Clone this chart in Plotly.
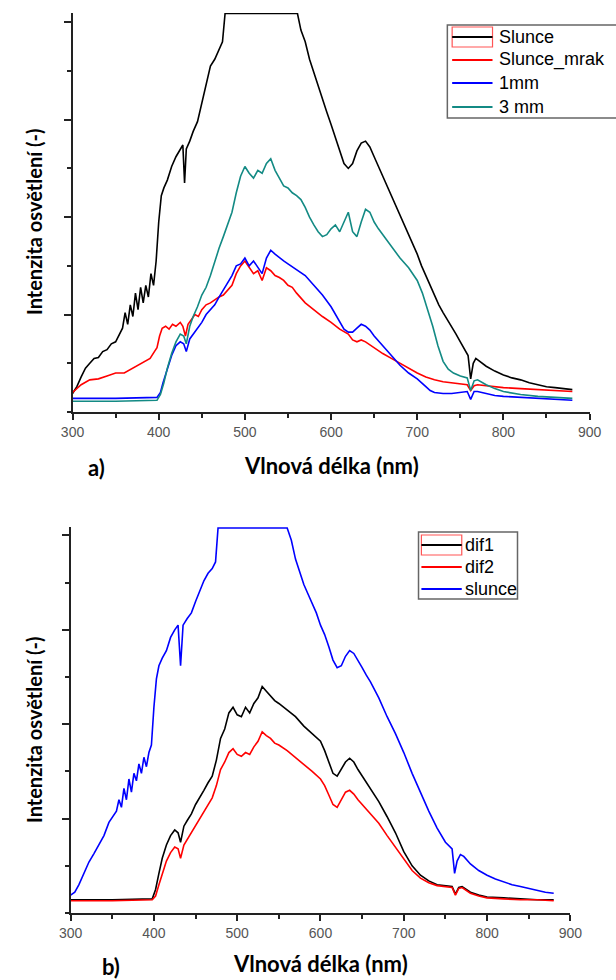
import plotly.graph_objects as go

W, H = 616, 980

# ---------- panel a) : irradiance spectra ----------
wl_slunce = [300, 305, 310, 315, 320, 325, 330, 335, 340, 345, 350, 355, 358, 361, 364, 367, 370, 373, 376, 379,
             382, 385, 388, 391, 394, 397, 400, 403, 406, 410, 415, 420, 425, 428, 430, 432, 436, 440, 445, 450,
             455, 460, 465, 470, 474, 477, 561, 565, 570, 575, 580, 585, 590, 595, 600, 605, 610, 615, 620, 625,
             630, 635, 640, 645, 650, 655, 660, 665, 670, 675, 680, 685, 690, 695, 700, 705, 710, 715, 720, 725,
             730, 735, 740, 745, 750, 755, 759, 762, 765, 768, 772, 780, 790, 800, 810, 820, 830, 840, 850, 860,
             870, 880]
slunce = [0.19, 0.26, 0.36, 0.45, 0.50, 0.55, 0.56, 0.62, 0.64, 0.70, 0.72, 0.80, 0.86, 1.02, 0.90, 1.10, 0.98, 1.22,
          1.05, 1.28, 1.12, 1.30, 1.18, 1.42, 1.30, 1.55, 1.95, 2.22, 2.30, 2.38, 2.52, 2.62, 2.70, 2.74, 2.35, 2.70,
          2.78, 2.88, 2.98, 3.18, 3.35, 3.55, 3.62, 3.72, 3.80, 4.09, 4.09, 3.92, 3.80, 3.62, 3.48, 3.35, 3.22, 3.08,
          2.95, 2.82, 2.68, 2.55, 2.50, 2.55, 2.68, 2.76, 2.78, 2.72, 2.62, 2.52, 2.42, 2.32, 2.22, 2.12, 2.02, 1.92,
          1.82, 1.72, 1.62, 1.50, 1.40, 1.30, 1.20, 1.10, 1.02, 0.95, 0.88, 0.80, 0.72, 0.64, 0.58, 0.34, 0.50, 0.55,
          0.52, 0.47, 0.42, 0.38, 0.35, 0.33, 0.30, 0.28, 0.26, 0.25, 0.24, 0.23]

wl_mrak = [300, 310, 320, 330, 340, 350, 360, 370, 380, 390, 395, 398, 401, 404, 408, 412, 416, 420, 425, 428,
           431, 434, 438, 442, 446, 450, 455, 460, 465, 470, 475, 480, 485, 490, 495, 500, 505, 510, 515, 520,
           525, 530, 535, 540, 545, 550, 555, 560, 570, 580, 590, 600, 610, 620, 625, 630, 635, 640, 650, 660,
           670, 680, 690, 700, 710, 720, 730, 740, 750, 758, 762, 766, 770, 780, 790, 800, 820, 840, 860, 880]
slunce_mrak = [0.20, 0.28, 0.33, 0.34, 0.37, 0.40, 0.40, 0.45, 0.50, 0.55, 0.62, 0.66, 0.78, 0.86, 0.88, 0.85, 0.90,
               0.88, 0.92, 0.88, 0.78, 0.90, 0.95, 1.00, 0.98, 1.05, 1.10, 1.12, 1.15, 1.18, 1.20, 1.25, 1.30, 1.42,
               1.50, 1.55, 1.48, 1.42, 1.45, 1.35, 1.48, 1.45, 1.40, 1.38, 1.35, 1.30, 1.28, 1.22, 1.12, 1.05, 0.98,
               0.92, 0.85, 0.80, 0.74, 0.72, 0.74, 0.72, 0.66, 0.60, 0.55, 0.50, 0.45, 0.40, 0.36, 0.33, 0.31, 0.30,
               0.29, 0.28, 0.22, 0.27, 0.28, 0.27, 0.26, 0.25, 0.24, 0.23, 0.22, 0.21]

wl_1mm = [300, 350, 398, 402, 405, 410, 415, 420, 425, 429, 432, 436, 440, 445, 450, 455, 460, 465, 470, 475,
          480, 485, 490, 495, 500, 505, 510, 515, 520, 525, 530, 535, 540, 545, 550, 560, 570, 580, 590, 600,
          605, 610, 615, 620, 625, 630, 635, 640, 645, 650, 660, 670, 680, 690, 700, 710, 715, 720, 730, 740,
          750, 758, 762, 766, 770, 780, 790, 800, 820, 840, 860, 880]
vzorek_1mm = [0.14, 0.14, 0.15, 0.20, 0.30, 0.45, 0.58, 0.68, 0.72, 0.70, 0.62, 0.75, 0.80, 0.86, 0.92, 1.00, 1.05,
              1.10, 1.18, 1.25, 1.32, 1.40, 1.50, 1.52, 1.58, 1.50, 1.55, 1.48, 1.42, 1.58, 1.66, 1.62, 1.58, 1.55,
              1.52, 1.46, 1.40, 1.30, 1.20, 1.08, 1.00, 0.92, 0.85, 0.82, 0.82, 0.86, 0.90, 0.88, 0.84, 0.78, 0.68,
              0.58, 0.48, 0.40, 0.34, 0.26, 0.22, 0.20, 0.19, 0.19, 0.20, 0.21, 0.13, 0.21, 0.21, 0.19, 0.17, 0.16,
              0.15, 0.14, 0.13, 0.12]

wl_3mm = [300, 350, 398, 402, 406, 410, 415, 420, 425, 429, 432, 436, 440, 445, 450, 455, 460, 465, 470, 475,
          480, 485, 490, 495, 500, 505, 510, 515, 520, 525, 530, 535, 540, 545, 550, 555, 560, 565, 570, 575,
          580, 585, 590, 595, 600, 605, 610, 615, 620, 625, 630, 635, 640, 645, 650, 655, 660, 670, 680, 690,
          700, 706, 712, 718, 724, 730, 736, 742, 750, 758, 762, 766, 770, 780, 790, 800, 820, 840, 860, 880]
vzorek_3mm = [0.11, 0.11, 0.12, 0.18, 0.30, 0.45, 0.60, 0.72, 0.80, 0.78, 0.70, 0.88, 0.98, 1.08, 1.20, 1.28, 1.40,
              1.55, 1.68, 1.80, 1.92, 2.05, 2.25, 2.42, 2.52, 2.45, 2.40, 2.48, 2.45, 2.55, 2.60, 2.48, 2.40, 2.32,
              2.30, 2.25, 2.22, 2.18, 2.10, 2.00, 1.92, 1.85, 1.80, 1.82, 1.88, 1.92, 1.85, 1.95, 2.05, 1.85, 1.80,
              1.95, 2.08, 2.05, 1.95, 1.88, 1.82, 1.70, 1.58, 1.48, 1.35, 1.22, 1.05, 0.88, 0.68, 0.52, 0.44, 0.40,
              0.37, 0.35, 0.22, 0.32, 0.33, 0.28, 0.24, 0.21, 0.18, 0.16, 0.15, 0.14]

# ---------- panel b) : differences ----------
wl_b_slunce = [300, 305, 310, 316, 322, 328, 334, 340, 346, 351, 355, 358, 361, 364, 367, 370, 373, 376, 379, 382,
               385, 388, 391, 394, 397, 400, 403, 406, 410, 415, 420, 425, 429, 432, 435, 440, 445, 450, 455, 460,
               465, 470, 474, 477, 560, 565, 570, 575, 580, 585, 590, 595, 600, 605, 610, 615, 620, 625, 630, 635,
               640, 645, 650, 655, 660, 670, 680, 690, 700, 710, 720, 730, 740, 750, 758, 761, 764, 768, 772, 780,
               790, 800, 810, 820, 830, 840, 850, 860, 870, 880]
b_slunce = [0.19, 0.22, 0.30, 0.42, 0.54, 0.63, 0.72, 0.82, 0.96, 1.03, 1.08, 1.20, 1.12, 1.32, 1.20, 1.42, 1.28,
            1.48, 1.40, 1.58, 1.48, 1.65, 1.55, 1.70, 1.78, 2.18, 2.48, 2.62, 2.70, 2.78, 2.92, 3.00, 3.05, 2.62,
            3.05, 3.12, 3.18, 3.30, 3.42, 3.52, 3.60, 3.65, 3.72, 4.08, 4.08, 3.95, 3.75, 3.62, 3.48, 3.38, 3.28,
            3.18, 3.05, 2.95, 2.82, 2.68, 2.60, 2.62, 2.72, 2.78, 2.75, 2.68, 2.60, 2.52, 2.45, 2.28, 2.08, 1.90,
            1.70, 1.48, 1.28, 1.08, 0.90, 0.75, 0.68, 0.42, 0.55, 0.62, 0.60, 0.52, 0.45, 0.40, 0.36, 0.33, 0.30,
            0.28, 0.26, 0.24, 0.22, 0.21]

wl_dif = [300, 350, 398, 402, 406, 410, 415, 420, 425, 429, 432, 436, 440, 445, 450, 455, 460, 465, 470, 475,
          480, 485, 490, 495, 500, 505, 510, 515, 520, 525, 530, 535, 540, 545, 550, 560, 570, 580, 590, 600,
          605, 610, 615, 620, 625, 630, 635, 640, 645, 650, 660, 670, 680, 690, 700, 710, 720, 730, 740, 750,
          758, 762, 766, 770, 780, 790, 800, 820, 840, 860, 880]
dif1 = [0.14, 0.14, 0.15, 0.25, 0.42, 0.58, 0.72, 0.82, 0.88, 0.85, 0.75, 0.92, 0.98, 1.05, 1.15, 1.22, 1.30, 1.38,
        1.45, 1.62, 1.85, 1.95, 2.12, 2.18, 2.10, 2.08, 2.18, 2.12, 2.22, 2.28, 2.40, 2.35, 2.30, 2.25, 2.22, 2.15,
        2.08, 1.98, 1.90, 1.82, 1.72, 1.60, 1.48, 1.45, 1.52, 1.60, 1.64, 1.60, 1.52, 1.45, 1.32, 1.18, 1.02, 0.85,
        0.65, 0.50, 0.40, 0.34, 0.30, 0.29, 0.28, 0.20, 0.27, 0.28, 0.22, 0.19, 0.17, 0.16, 0.15, 0.14, 0.14]
dif2 = [0.13, 0.13, 0.14, 0.18, 0.30, 0.42, 0.55, 0.64, 0.70, 0.68, 0.58, 0.72, 0.78, 0.85, 0.92, 1.00, 1.08, 1.15,
        1.22, 1.35, 1.52, 1.60, 1.70, 1.74, 1.68, 1.66, 1.70, 1.68, 1.76, 1.82, 1.92, 1.88, 1.85, 1.80, 1.78, 1.72,
        1.65, 1.58, 1.50, 1.42, 1.35, 1.25, 1.15, 1.12, 1.20, 1.28, 1.30, 1.26, 1.20, 1.15, 1.05, 0.95, 0.82, 0.70,
        0.57, 0.45, 0.37, 0.32, 0.29, 0.28, 0.27, 0.19, 0.26, 0.27, 0.21, 0.18, 0.16, 0.15, 0.14, 0.14, 0.13]

x_ticks = [300, 400, 500, 600, 700, 800, 900]
names_a = ["Slunce", "Slunce_mrak", "1mm", "3 mm"]
names_b = ["dif1", "dif2", "slunce"]

BLACK, RED, BLUE, TEAL = "#000000", "#ff0000", "#0000ff", "#138a84"
LW = 1.6
TITLE_FONT = dict(family="Lato", size=22, color="#000000")
YTITLE_FONT = dict(family="Lato", size=20, color="#000000")
TICK_FONT = dict(family="Liberation Sans", size=14, color="#555555")
LEG_FONT = dict(family="Liberation Sans", size=18, color="#000000")


def px(x):
    return x / W


def py(y):
    return 1 - y / H


fig = go.Figure()

series_a = [(wl_slunce, slunce, BLACK), (wl_mrak, slunce_mrak, RED),
            (wl_1mm, vzorek_1mm, BLUE), (wl_3mm, vzorek_3mm, TEAL)]
for (wl, vals, col), name in zip(series_a, names_a):
    fig.add_trace(go.Scatter(x=wl, y=vals, mode="lines", name=name, showlegend=False,
                             line=dict(color=col, width=LW), xaxis="x", yaxis="y"))

series_b = [(wl_dif, dif1, BLACK), (wl_dif, dif2, RED), (wl_b_slunce, b_slunce, BLUE)]
for (wl, vals, col), name in zip(series_b, names_b):
    fig.add_trace(go.Scatter(x=wl, y=vals, mode="lines", name=name, showlegend=False,
                             line=dict(color=col, width=LW), xaxis="x2", yaxis="y2"))


def xaxis_style(domain, anchor):
    return dict(domain=domain, anchor=anchor, range=[300, 900], tickvals=x_ticks,
                ticks="outside", ticklen=6, tickwidth=1.5, tickcolor="#222222",
                minor=dict(dtick=50, tick0=300, ticks="outside", ticklen=4, tickwidth=1.5, tickcolor="#222222"),
                showline=True, linecolor="#222222", linewidth=2, showgrid=False, zeroline=False,
                tickfont=TICK_FONT)


def yaxis_style(domain, anchor, top):
    return dict(domain=domain, anchor=anchor, range=[0, top], tickvals=[1, 2, 3, 4],
                ticks="outside", ticklen=7, tickwidth=1.5, tickcolor="#222222", showticklabels=False,
                minor=dict(dtick=0.5, tick0=0, ticks="outside", ticklen=4, tickwidth=1.5, tickcolor="#222222"),
                showline=True, linecolor="#222222", linewidth=2, showgrid=False, zeroline=False)


annotations = []
shapes = []

# axis titles and panel letters
for cx, cy, txt in [(332, 465, "Vlnová délka (nm)"), (321, 963, "Vlnová délka (nm)"),
                    (88, 468, "a)"), (103, 966, "b)")]:
    annotations.append(dict(x=px(cx), y=py(cy), xref="paper", yref="paper", text="<b>%s</b>" % txt,
                            showarrow=False, xanchor="center", yanchor="middle", font=TITLE_FONT))
for cx, cy in [(23, 222), (23, 730)]:
    annotations.append(dict(x=px(cx), y=py(cy), xref="paper", yref="paper",
                            text="<b>Intenzita osvětlení (-)</b>", textangle=-90, showarrow=False,
                            xanchor="center", yanchor="middle", font=YTITLE_FONT))


def legend_box(x0, y0, x1, y1, entries, line_x0, line_x1, text_x):
    shapes.append(dict(type="rect", xref="paper", yref="paper", x0=px(x0), x1=px(x1), y0=py(y1), y1=py(y0),
                       line=dict(color="#666666", width=1.5), fillcolor="white", layer="above"))
    for i, (name, col, ey) in enumerate(entries):
        if i == 0:
            shapes.append(dict(type="rect", xref="paper", yref="paper", x0=px(line_x0), x1=px(line_x1),
                               y0=py(ey + 10), y1=py(ey - 10), line=dict(color="#ff5555", width=1.2),
                               layer="above"))
        shapes.append(dict(type="line", xref="paper", yref="paper", x0=px(line_x0), x1=px(line_x1),
                           y0=py(ey), y1=py(ey), line=dict(color=col, width=2), layer="above"))
        annotations.append(dict(x=px(text_x), y=py(ey), xref="paper", yref="paper", text=name,
                                showarrow=False, xanchor="left", yanchor="middle", font=LEG_FONT))


legend_box(453, 25, 660, 118,
           [(names_a[0], BLACK, 37), (names_a[1], RED, 60), (names_a[2], BLUE, 83), (names_a[3], TEAL, 107)],
           458, 500, 505)
legend_box(423, 532, 526, 599,
           [(names_b[0], BLACK, 545), (names_b[1], RED, 567), (names_b[2], BLUE, 589)],
           426, 468, 469)

fig.update_layout(
    width=W, height=H, margin=dict(l=0, r=0, t=0, b=0),
    paper_bgcolor="white", plot_bgcolor="white", showlegend=False,
    xaxis=xaxis_style([px(63), px(601)], "y"),
    yaxis=yaxis_style([py(412), py(13)], "x", 4.095),
    xaxis2=xaxis_style([px(61), px(581)], "y2"),
    yaxis2=yaxis_style([py(913), py(527)], "x2", 4.09),
    annotations=annotations, shapes=shapes,
)

fig.write_html("out.html")
